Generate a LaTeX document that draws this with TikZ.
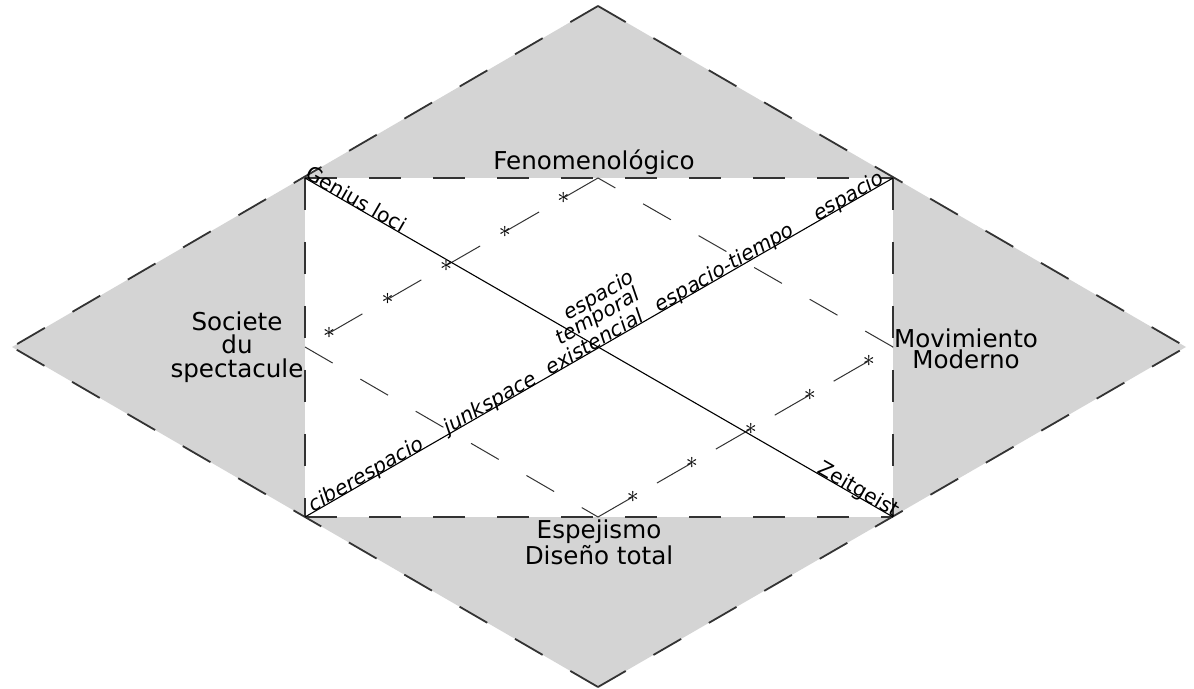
\documentclass[tikz,border=0pt]{standalone}
\usepackage{fontspec}
\setmainfont{DejaVu Sans}
\usetikzlibrary{calc}
\definecolor{fieldgray}{HTML}{D4D4D4}
\definecolor{edgegray}{HTML}{333333}
\tikzset{
  dia frame/.style={edgegray,line width=.9pt,dash pattern=on 16pt off 16pt},
  dia inner/.style={edgegray,line width=.5pt,dash pattern=on 16pt off 16pt},
  dia starred/.style={edgegray,line width=.5pt,dash pattern=on 20pt off 14pt},
  dia axis/.style={black,line width=.55pt},
  dia star/.style={inner sep=0pt,font=\fontsize{13}{13}\selectfont},
  dia label/.style={align=center,inner sep=0pt,font=\fontsize{12.3}{11.8}\selectfont},
  dia tag/.style={sloped,anchor=base,inner sep=0pt,font=\fontsize{10.2}{10}\selectfont},
  dia slope/.style={dia tag,font=\fontsize{10.2}{10}\selectfont\itshape}
}
\begin{document}
\begin{tikzpicture}[x=.5pt,y=-.5pt]
  \useasboundingbox (0,0) rectangle (1194,689);
  % outer diamond and frame
  \coordinate (N) at (598,6);
  \coordinate (S) at (598,687);
  \coordinate (W) at (12,347);
  \coordinate (E) at (1186,347);
  \coordinate (tl) at (305,178);
  \coordinate (tr) at (893,178);
  \coordinate (br) at (893,517);
  \coordinate (bl) at (305,517);
  % inner rhombus
  \coordinate (it) at (598,178);
  \coordinate (ib) at (598,517);
  \coordinate (il) at (305,347);
  \coordinate (ir) at (893,347);
  \fill[fieldgray] (N)--(E)--(S)--(W)--cycle;
  \fill[white] (tl) rectangle (br);
  \draw[dia frame] (N)--(W);
  \draw[dia frame] (N)--(E);
  \draw[dia frame] (S)--(W);
  \draw[dia frame] (S)--(E);
  \draw[dia frame] (tl)--(tr);
  \draw[dia frame] (tl)--(bl);
  \draw[dia frame] (bl)--(br);
  \draw[dia frame] (tr)--(br);
  \draw[dia inner] (il)--(ib);
  \draw[dia inner] (ir)--(it);
  \draw[dia starred] (it)--(il);
  \draw[dia starred] (ib)--(ir);
  \foreach \f [count=\i] in {.118,.318,.518,.718,.918}{
    \node[dia star] (sa\i) at ($(it)!\f!(il)$) {$\ast$};
    \node[dia star] (sb\i) at ($(ib)!\f!(ir)$) {$\ast$};
  }
  % diagonals
  \draw[dia axis] (bl) -- (tr)
    node[dia slope,pos=.109] (cyber) {ciberespacio}
    node[dia slope,pos=.32] (junk) {junkspace}
    node[dia slope,pos=.498] (exist) {existencial}
    node[dia slope,pos=.719] (sptime) {espacio-tiempo}
    node[dia slope,pos=.93] (space) {espacio};
  \draw[dia axis] (tl) -- (br)
    node[dia tag,pos=.081] (genius) {Genius loci}
    node[dia tag,pos=.936] (zeit) {Zeitgeist};
  \node[dia slope,rotate=30] (temporal) at (601,322) {temporal};
  \node[dia slope,rotate=30] (spaceup) at (602,301) {espacio};
  % outer labels
  \node[dia label,anchor=base] (feno) at (594,170) {Fenomenológico};
  \node[dia label] (societe) at (237,347) {Societe\\du\\spectacule};
  \node[dia label,font=\fontsize{12.3}{10.4}\selectfont] (movim) at (966,349) {Movimiento\\Moderno};
  \node[dia label,font=\fontsize{12.3}{12}\selectfont] (espej) at (599,542) {Espejismo\\Diseño total};
\end{tikzpicture}
\end{document}
